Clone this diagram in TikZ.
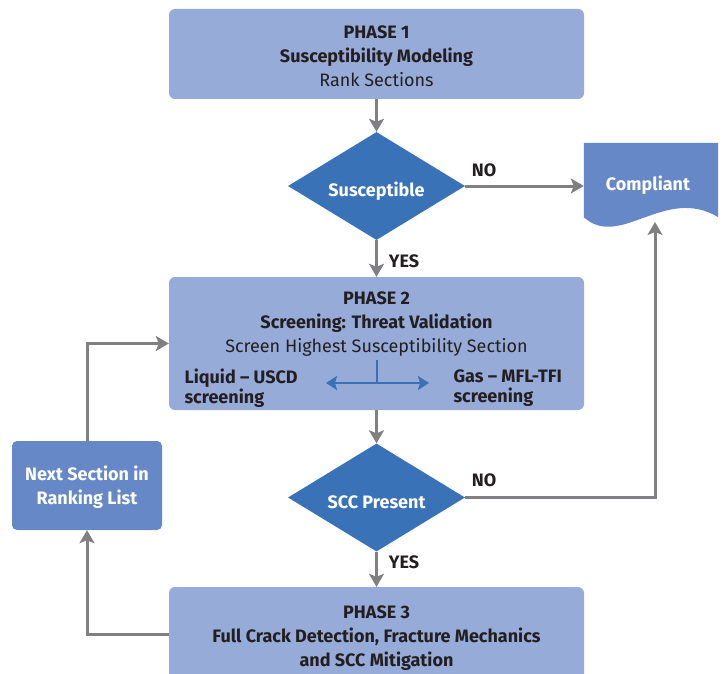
\documentclass[tikz,border=0pt]{standalone}
\usepackage{fontspec}
\setmainfont{Fira Sans}
\usetikzlibrary{arrows.meta,shapes.geometric,positioning}

\definecolor{phasefill}{RGB}{151,171,216}
\definecolor{decfill}{RGB}{58,114,184}
\definecolor{sidefill}{RGB}{102,136,198}
\definecolor{flowgray}{RGB}{128,128,130}
\definecolor{textdark}{RGB}{35,31,32}

\begin{document}
\begin{tikzpicture}
[x=1pt,y=-1pt,>={Stealth[length=13pt,width=15pt,inset=3pt]},
  font=\fontsize{18}{24}\selectfont,text=textdark,
  phase/.style={rectangle,rounded corners=6pt,fill=phasefill,minimum width=415pt,inner sep=0pt},
  decision/.style={diamond,fill=decfill,minimum width=177pt,minimum height=108pt,inner sep=0pt},
  side/.style={rectangle,rounded corners=5pt,fill=sidefill},
  whitetxt/.style={text=white,align=center,font=\fontsize{18}{24}\selectfont\bfseries},
  answer/.style={font=\fontsize{18}{24}\selectfont\bfseries},
  flow/.style={->,draw=flowgray,line width=3pt}]

  \useasboundingbox (0,0) rectangle (725,674);
  \clip (0,0) rectangle (725,674);

  % boxes of the three phases
  \node[phase,minimum height=90pt] (phase1) at (376.5,54) {};
  \node[phase,minimum height=133pt] (phase2) at (376.5,343.5) {};
  \node[phase,minimum height=94pt] (phase3) at (376.5,634) {};

  \node[align=center] (phase1txt) at (376.5,56.5)
    {\textbf{PHASE 1}\\\textbf{Susceptibility Modeling}\\Rank Sections};
  \node[align=center] (phase2txt) at (376.5,324.5)
    {\textbf{PHASE 2}\\\textbf{Screening: Threat Validation}\\Screen Highest Susceptibility Section};
  \node[align=center,font=\fontsize{18}{24}\selectfont\bfseries] (phase3txt) at (376.5,638)
    {PHASE 3\\Full Crack Detection, Fracture Mechanics\\and SCC Mitigation};
  \node[anchor=west,align=left,font=\fontsize{18}{20.5}\selectfont\bfseries] (liquid) at (181,388)
    {Liquid -- USCD\\screening};
  \node[anchor=west,align=left,font=\fontsize{18}{20.5}\selectfont\bfseries] (gas) at (450,388)
    {Gas -- MFL-TFI\\screening};

  \coordinate (split) at (377,360);
  \coordinate (splitL) at (326,383);
  \coordinate (splitR) at (429,383);
  \draw[decfill,line width=2.5pt] (split) -- (split |- splitL);
  \draw[decfill,line width=2.5pt,{Stealth[length=11pt,width=14pt,inset=2pt]}-{Stealth[length=11pt,width=14pt,inset=2pt]}] (splitL) -- (splitR);

  % decisions
  \node[decision] (susc) at (376.5,186) {};
  \node[decision] (scc) at (376.5,497.5) {};
  \node[whitetxt] (susctxt) at (376.5,191) {Susceptible};
  \node[whitetxt] (scctxt) at (376.5,502.5) {SCC Present};

  % side boxes
  \node[side,minimum width=150pt,minimum height=89pt] (next) at (87,485.5) {};
  \node[whitetxt] (nexttxt) at (87,487.5) {Next Section in\\Ranking List};
  \node[minimum width=134pt,minimum height=74pt] (compliant) at (651,180) {};
  \fill[sidefill] (compliant.south west) -- (compliant.north west) -- (compliant.north east)
    -- (compliant.south east) .. controls (665,185) and (620,250) .. (compliant.south west) -- cycle;
  \node[whitetxt] (complianttxt) at (648,185) {Compliant};
  \coordinate (cmpbot) at (655,222);

  % answers
  \node[answer] (no1) at (484,170) {NO};
  \node[answer] (yes1) at (404,261) {YES};
  \node[answer] (no2) at (484,480) {NO};
  \node[answer] (yes2) at (404,562) {YES};

  \foreach \from/\to in {phase1/susc,susc/phase2,phase2/scc,scc/phase3}
    \draw[flow] (\from) -- (\to);
  \draw[flow] (susc.east) -- (compliant.west |- susc.east);
  \draw[flow] (scc.east) -| (cmpbot);
  \draw[flow] (phase3.west) -| (next.south);
  \draw[flow] (next.north) |- (phase2.west);

\end{tikzpicture}
\end{document}
